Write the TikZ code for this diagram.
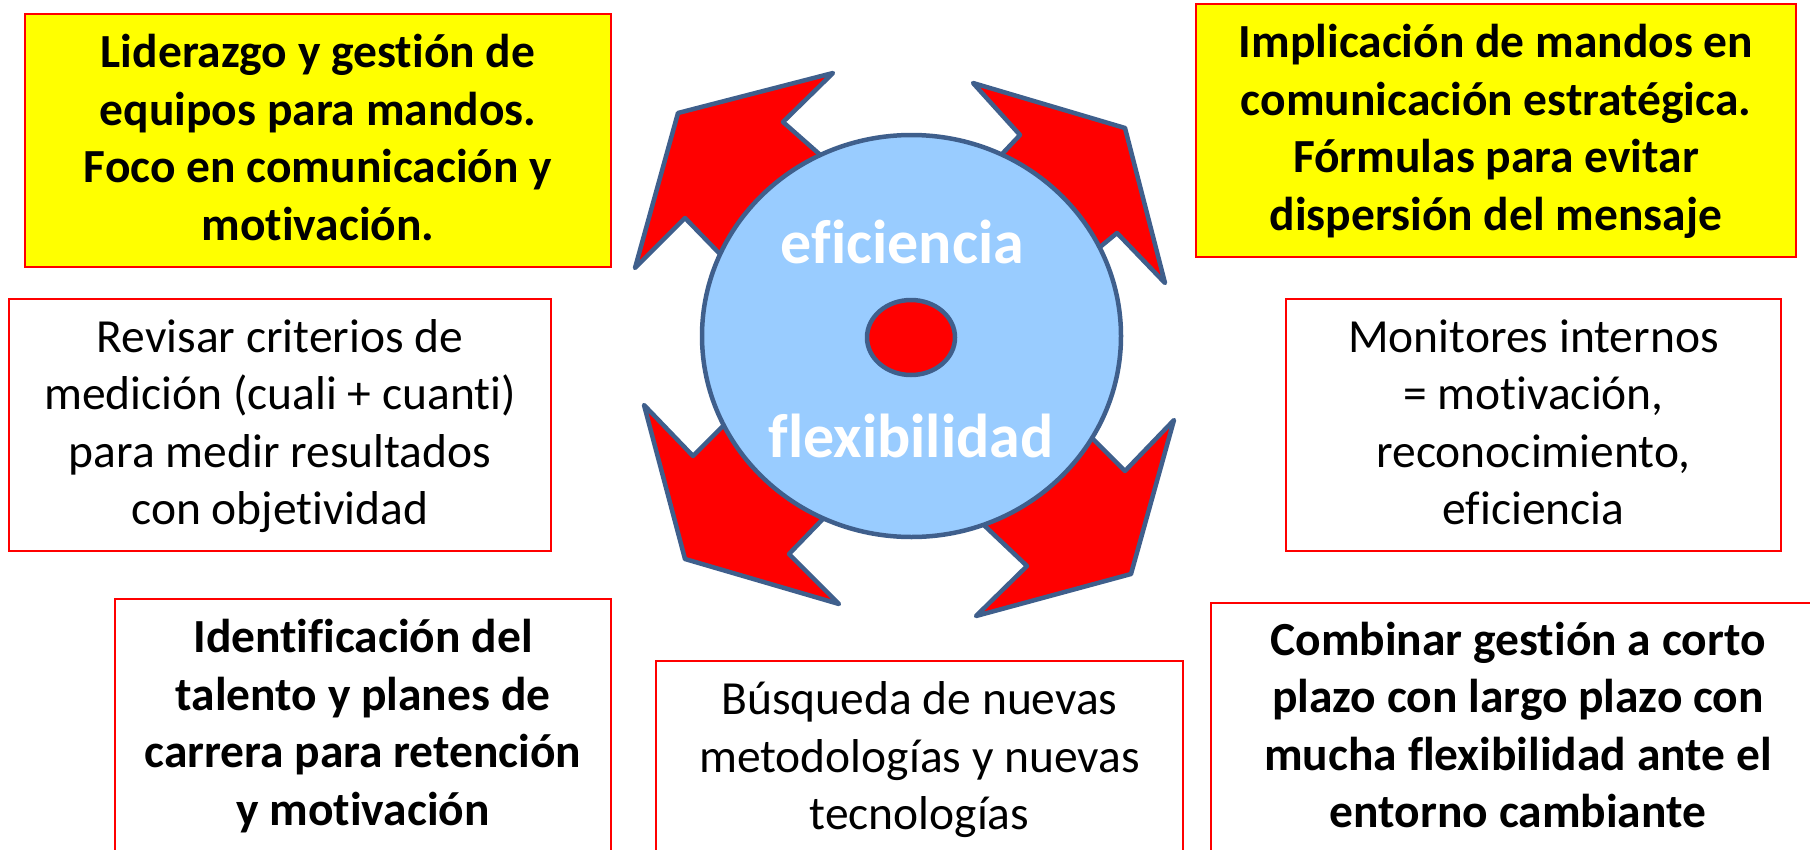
\documentclass[tikz,border=0pt]{standalone}
\usepackage{fontspec}
\setmainfont{Carlito}[Ligatures={NoCommon}]
\usetikzlibrary{shapes.geometric}
\definecolor{arrred}{HTML}{FF0000}
\definecolor{discblue}{HTML}{99CCFF}
\definecolor{edgeblue}{HTML}{3F5F8C}
\definecolor{boxyellow}{HTML}{FFFF00}
\newcommand{\lstrut}{\rule[-15.25pt]{0pt}{57.5pt}}
\tikzset{
  box/.style={rectangle, draw=red, line width=2pt, align=center, inner sep=0pt,
    font=\fontsize{47.5}{57.5}\selectfont},
  ybox/.style={box, fill=boxyellow, font=\fontsize{47.5}{57.5}\selectfont\bfseries},
  wbox/.style={box, fill=white},
  bbox/.style={box, fill=white, font=\fontsize{47.5}{57.5}\selectfont\bfseries},
  arrowshape/.style={fill=arrred, draw=edgeblue, line width=4.5pt, line join=round},
  disc/.style={ellipse, fill=discblue, draw=edgeblue, line width=4.5pt, inner sep=0pt,
    minimum width=419pt, minimum height=402pt},
  hub/.style={ellipse, fill=arrred, draw=edgeblue, line width=4.5pt, inner sep=0pt,
    minimum width=88pt, minimum height=75pt},
  ctext/.style={text=white, font=\fontsize{62}{74}\selectfont\bfseries, anchor=base, inner sep=0pt}
}
\begin{document}
\begin{tikzpicture}[x=1pt,y=-1pt]
\useasboundingbox (0,0) rectangle (1810,849);
% arrows (drawn below the disc)
\draw[arrowshape] (678,113) -- (833,73) -- (783,122) -- (885,212) -- (784,320) -- (685,218) -- (635,268) -- cycle;
\draw[arrowshape] (973,83) -- (1125,128) -- (1165,283) -- (1117,233) -- (1032,303) -- (935,225) -- (1020,135) -- cycle;
\draw[arrowshape] (644,405) -- (693,456) -- (801,348) -- (882,458) -- (789,554) -- (839,604) -- (685,559) -- cycle;
\draw[arrowshape] (1174,420) -- (1131,574) -- (976,616) -- (1027,566) -- (910,455) -- (1035,381) -- (1125,471) -- cycle;
% disc
\node[disc] (disc) at (911.5,336) {};
\node[hub] (hub) at (911,337.5) {};
\node[ctext] (eff) at (902.5,263) {eficiencia};
\node[ctext] (flex) at (911,457) {flexibilidad};
% boxes
\node[ybox, minimum width=586pt, minimum height=253pt] (lid) at (318,140.5)
  {\lstrut Liderazgo y gestión de\\\lstrut equipos para mandos.\\\lstrut Foco en comunicación y\\\lstrut motivación.};
\node[ybox, minimum width=600pt, minimum height=253pt] (imp) at (1496,130.5)
  {\lstrut Implicación de mandos en\\\lstrut comunicación estratégica.\\\lstrut Fórmulas para evitar\\\lstrut dispersión del mensaje};
\node[wbox, minimum width=542pt, minimum height=252pt] (rev) at (280,425)
  {\lstrut Revisar criterios de\\\lstrut medición (cuali + cuanti)\\\lstrut para medir resultados\\\lstrut con objetividad};
\node[wbox, minimum width=495pt, minimum height=252pt] (mon) at (1533.5,425)
  {\lstrut Monitores internos\\\lstrut = motivación,\\\lstrut reconocimiento,\\\lstrut eficiencia};
\node[bbox, minimum width=496pt, minimum height=253pt] (idt) at (363,725.5)
  {\lstrut Identificación del\\\lstrut talento y planes de\\\lstrut carrera para retención\\\lstrut y motivación};
\node[wbox, minimum width=527pt, minimum height=195pt] (bus) at (919.5,758.5)
  {\lstrut Búsqueda de nuevas\\\lstrut metodologías y nuevas\\\lstrut tecnologías};
\node[bbox, minimum width=614pt, minimum height=250pt] (com) at (1518,728)
  {\lstrut Combinar gestión a corto\\\lstrut plazo con largo plazo con\\\lstrut mucha flexibilidad ante el\\\lstrut entorno cambiante};
\end{tikzpicture}
\end{document}
